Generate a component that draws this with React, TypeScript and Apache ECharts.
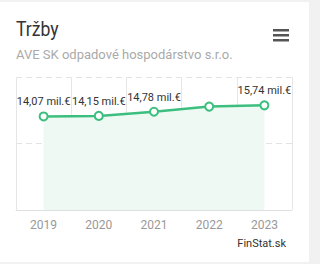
import React, { useEffect, useRef } from "react";
import * as echarts from "echarts";

const years = ["2019", "2020", "2021", "2022", "2023"];
const revenue = [14.07, 14.15, 14.78, 15.55, 15.74];
const showLabel = [true, true, true, false, true];
const title = "Tržby";
const subtitle = "AVE SK odpadové hospodárstvo s.r.o.";
const credit = "FinStat.sk";

export default function App() {
  const ref = useRef<HTMLDivElement>(null);
  useEffect(() => {
    if (!ref.current) return;
    const chart = echarts.init(ref.current, null, { renderer: "svg" });
    const green = "#3cbf7e";
    chart.setOption({
      animation: false,
      textStyle: { fontFamily: "Roboto" },
      grid: { left: 16, right: 17, top: 75, bottom: 52 },
      graphic: [
        { type: "text", x: 16, y: 18, scaleX: 0.88, style: { text: title, fontSize: 20, fill: "#333", fontFamily: "Roboto" } },
        { type: "text", left: 16, top: 46, style: { text: subtitle, fontSize: 13, fill: "#aaaaaa", fontFamily: "Roboto" } },
        { type: "rect", shape: { x: 273, y: 27, width: 16, height: 2.5 }, style: { fill: "#555" } },
        { type: "rect", shape: { x: 273, y: 32, width: 16, height: 2.5 }, style: { fill: "#555" } },
        { type: "rect", shape: { x: 273, y: 37, width: 16, height: 2.5 }, style: { fill: "#555" } },
        { type: "text", right: 23, top: 236, style: { text: credit, fontSize: 11, fill: "#333", fontFamily: "Roboto" } },
      ],
      xAxis: {
        type: "category",
        data: years,
        boundaryGap: true,
        axisLine: { lineStyle: { color: "#e0e0e0" } },
        axisTick: { show: false },
        axisLabel: { color: "#999", fontSize: 12, margin: 9 },
        splitLine: { show: true, lineStyle: { color: "#e6e6e6" } },
      },
      yAxis: {
        type: "value",
        min: 0,
        max: 20,
        interval: 10,
        axisLabel: { show: false },
        axisLine: { show: false },
        axisTick: { show: false },
        splitLine: { lineStyle: { color: "#e3e3e3", type: [6, 4], width: 1 } },
      },
      series: [
        {
          type: "line",
          data: revenue.map((v, i) => ({ value: v, label: { show: showLabel[i] } })),
          symbol: "emptyCircle",
          symbolSize: 8,
          lineStyle: { color: green, width: 2.5 },
          itemStyle: { color: green, borderWidth: 2 },
          areaStyle: { color: "#eef9f4", opacity: 1 },
          label: {
            show: true,
            position: "top",
            distance: 4,
            color: "#333",
            fontSize: 11,
            formatter: (p: any) => p.value.toFixed(2).replace(".", ",") + " mil.€",
          },
        },
      ],
    });
    return () => chart.dispose();
  }, []);
  return (
    <div style={{ position: "absolute", left: 0, top: 0, width: 320, height: 264, background: "#f1f1f1" }}>
      <div ref={ref} style={{ position: "absolute", left: 0, top: 2, width: 309, height: 260, background: "#fff" }} />
    </div>
  );
}
